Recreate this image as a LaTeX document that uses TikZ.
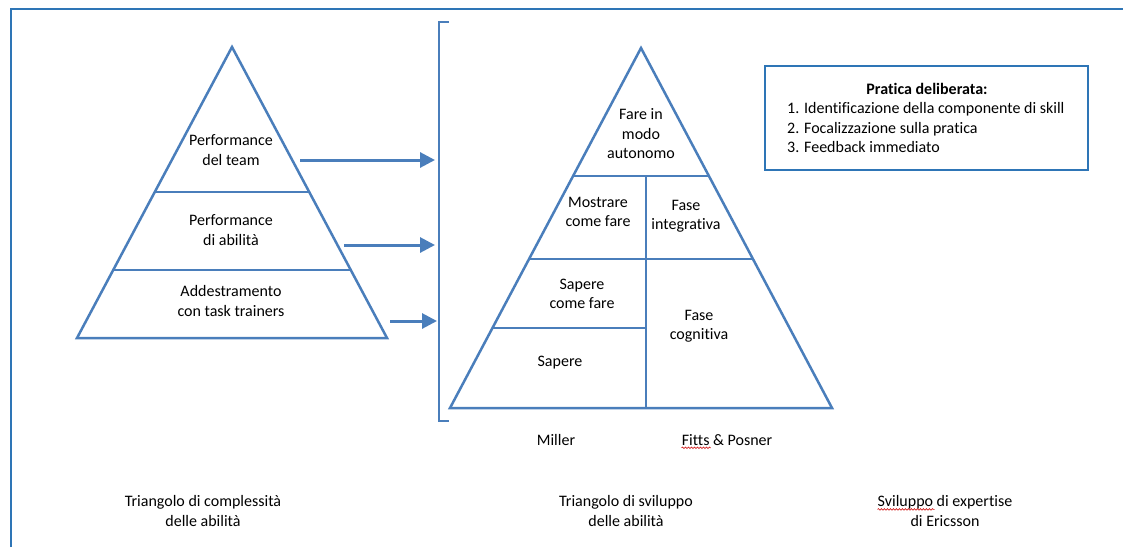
\documentclass[tikz,border=0pt]{standalone}
\usepackage{fontspec}
\setmainfont[Ligatures=NoCommon]{Carlito}
\usetikzlibrary{arrows.meta,calc,decorations.pathmorphing}
\definecolor{shapeblue}{RGB}{74,126,187}
\definecolor{frameblue}{RGB}{46,117,182}
\tikzset{
  edge line/.style={draw=shapeblue,line width=2.5pt,line join=miter},
  split line/.style={draw=shapeblue,line width=1.8pt},
  link/.style={shapeblue,line width=3pt,-{Triangle[length=15pt,width=15pt]}},
  txt/.style={align=center,inner sep=0pt,font=\fontsize{16}{19.5}\selectfont},
  typo/.style={red!80!black,line width=0.6pt,decorate,
    decoration={snake,segment length=3pt,amplitude=0.8pt}},
}
\begin{document}
\begin{tikzpicture}[x=1pt,y=-1pt]
  \useasboundingbox (0,0) rectangle (1123,547);
  \draw[frameblue,line width=2pt] (11,547) -- (11,9) -- (1123,9);

  % complexity triangle
  \coordinate (lt) at (232,47);
  \coordinate (lbl) at (77,338);
  \coordinate (lbr) at (387,338);
  \draw[edge line] (lt) -- (lbl) -- (lbr) -- cycle;
  \draw[split line] ($(lt)!0.498!(lbl)$) -- ($(lt)!0.498!(lbr)$);
  \draw[split line] ($(lt)!0.766!(lbl)$) -- ($(lt)!0.766!(lbr)$);

  \node[txt] (team) at (231,150) {Performance\\del team};
  \node[txt] (abil) at (231,230) {Performance\\di abilità};
  \node[txt] (task) at (231,301) {Addestramento\\con task trainers};

  % bracket and arrows
  \draw[edge line] (449,22) -- (439,22) -- (439,421) -- (449,421);
  \coordinate (a1) at (300,160);
  \coordinate (a2) at (344,245);
  \coordinate (a3) at (390,321);
  \coordinate (b1) at (435,160);
  \coordinate (b2) at (435,245);
  \coordinate (b3) at (437,321);
  \draw[link] (a1) -- (b1);
  \draw[link] (a2) -- (b2);
  \draw[link] (a3) -- (b3);

  % development triangle
  \coordinate (mt) at (641,48);
  \coordinate (mbl) at (450,408);
  \coordinate (mbr) at (832,408);
  \draw[edge line] (mt) -- (mbl) -- (mbr) -- cycle;
  \draw[split line] ($(mt)!0.356!(mbl)$) -- ($(mt)!0.356!(mbr)$);
  \draw[split line] ($(mt)!0.586!(mbl)$) -- ($(mt)!0.586!(mbr)$);
  \draw[split line] ($(mt)!0.778!(mbl)$) -- (646,328);
  \draw[split line] (646,176) -- (646,408);

  \node[txt] (auto) at (641,134) {Fare in\\modo\\autonomo};
  \node[txt] (mostra) at (598,212) {Mostrare\\come fare};
  \node[txt] (integ) at (686,216) {Fase\\integrativa};
  \node[txt] (sapfare) at (582,294) {Sapere\\come fare};
  \node[txt] (cogn) at (699,326) {Fase\\cognitiva};
  \node[txt] (sapere) at (560,363) {Sapere};
  \node[txt] (miller) at (556,440) {Miller};
  \node[txt] (fitts) at (727,440) {Fitts \& Posner};

  % deliberate practice
  \node[draw=frameblue,line width=2pt,minimum width=323pt,minimum height=104pt,inner sep=0pt] (pratica) at (926.5,118) {};
  \node[txt] (pratitle) at (927,89) {\bfseries Pratica deliberata:};
  \node[txt,align=left,anchor=west] (steps) at (787,128) {1. Identificazione della componente di skill\\2. Focalizzazione sulla pratica\\3. Feedback immediato};

  % captions
  \node[txt] (capleft) at (203,511) {Triangolo di complessità\\delle abilità};
  \node[txt] (capmid) at (626,511) {Triangolo di sviluppo\\delle abilità};
  \node[txt] (capright) at (945,511) {Sviluppo di expertise\\di Ericsson};

  \draw[typo] ($(fitts.south west)+(0,2)$) -- ++(29,0);
  \draw[typo] ($(capright.north west)+(0,14)$) -- ++(57,0);
\end{tikzpicture}
\end{document}
